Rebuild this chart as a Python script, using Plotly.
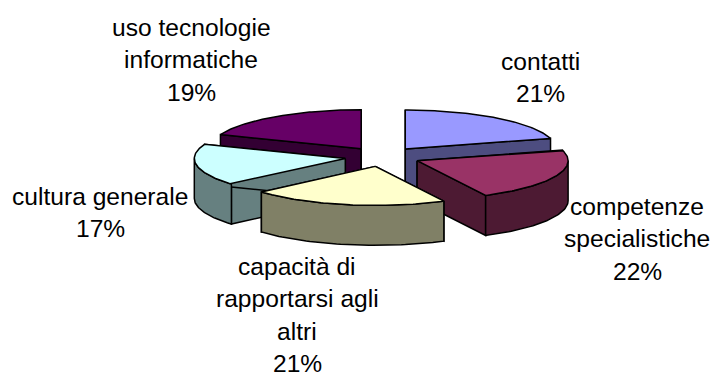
import numpy as np
import plotly.graph_objects as go

# slices clockwise from 12 o'clock
labels = ["contatti", "competenze specialistiche", "capacità di rapportarsi agli altri",
          "cultura generale", "uso tecnologie informatiche"]
values = [20.6, 21.9, 21.1, 17.3, 19.1]
top_colors = ["#9999FF", "#993366", "#FFFFCC", "#CCFFFF", "#660066"]
side_colors = ["#4D4D80", "#4D1A33", "#808066", "#668080", "#330033"]

# label lines as they wrap in the picture, with centre x and line y in pixels
label_lines = [
    ["contatti"],
    ["competenze", "specialistiche"],
    ["capacità di", "rapportarsi agli", "altri"],
    ["cultura generale"],
    ["uso tecnologie", "informatiche"],
]
label_x = [540, 637, 297, 100, 191]
label_y = [61, 206, 266, 196, 27]
LINE_STEP = 32.5

# pie projection, in pixels of the 716x374 page
CX, CY = 382.5, 156.8
RX, RY = 151, 39
DEPTH = 40
EXPLODE = 0.25
# order the slices are painted, back to front
DRAW_ORDER = [4, 0, 3, 1, 2]


def project(ax, ay, theta):
    return ax + RX * np.sin(theta), ay - RY * np.cos(theta)


def poly(xs, ys, color):
    return go.Scatter(
        x=xs, y=ys, mode="lines", fill="toself", fillcolor=color,
        line=dict(color="black", width=1.5), hoverinfo="skip", showlegend=False,
    )


total = sum(values)
ends = np.cumsum(values) / total * 2 * np.pi
starts = np.concatenate([[0], ends[:-1]])

fig = go.Figure()
for i in DRAW_ORDER:
    a0, a1 = starts[i], ends[i]
    mid = (a0 + a1) / 2
    ax = CX + EXPLODE * RX * np.sin(mid)
    ay = CY - EXPLODE * RY * np.cos(mid)

    # cut faces, the hidden ones end up under the top and rim
    for a in (a0, a1):
        ex, ey = project(ax, ay, a)
        fig.add_trace(poly([ax, ex, ex, ax, ax], [ay, ey, ey + DEPTH, ay + DEPTH, ay], side_colors[i]))

    # outer rim, only the part facing front
    r0, r1 = max(a0, np.pi / 2), min(a1, 3 * np.pi / 2)
    if r1 > r0:
        t = np.linspace(r0, r1, 50)
        rx, ry = project(ax, ay, t)
        fig.add_trace(poly(
            np.concatenate([rx, rx[::-1], rx[:1]]),
            np.concatenate([ry, ry[::-1] + DEPTH, ry[:1]]),
            side_colors[i],
        ))

    t = np.linspace(a0, a1, 80)
    tx, ty = project(ax, ay, t)
    fig.add_trace(poly(np.r_[ax, tx, ax], np.r_[ay, ty, ay], top_colors[i]))

for i in range(len(labels)):
    lines = label_lines[i] + [f"{values[i]:.0f}%"]
    for k, line in enumerate(lines):
        fig.add_annotation(
            x=label_x[i], y=label_y[i] + k * LINE_STEP, text=line, showarrow=False,
            xanchor="center", yanchor="middle",
            font=dict(family="Liberation Sans", size=24.6, color="black"),
        )

fig.update_layout(
    width=716, height=374, margin=dict(l=0, r=0, t=0, b=0),
    paper_bgcolor="white", plot_bgcolor="white",
    xaxis=dict(range=[0, 716], visible=False, fixedrange=True),
    yaxis=dict(range=[374, 0], visible=False, fixedrange=True),
)
# the page's default body margin would push the plot 8px in
fig.write_html("out.html", config=dict(displayModeBar=False),
               post_script="document.body.style.margin = '0';")
